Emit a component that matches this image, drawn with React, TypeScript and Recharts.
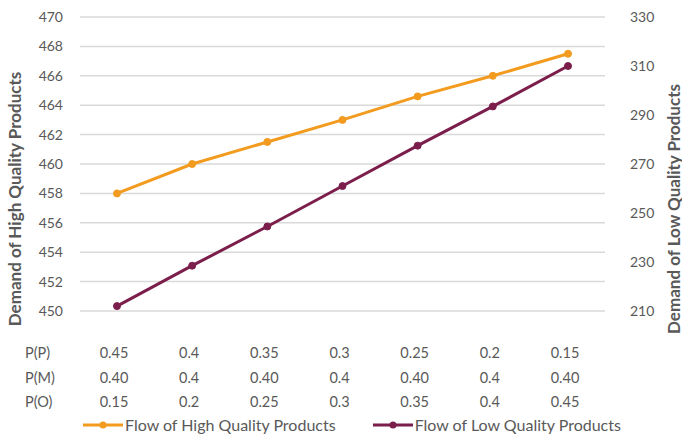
import { LineChart, Line, XAxis, YAxis, CartesianGrid, Legend } from 'recharts';

const pP = ['0.45', '0.4', '0.35', '0.3', '0.25', '0.2', '0.15'];
const pM = ['0.40', '0.4', '0.40', '0.4', '0.40', '0.4', '0.40'];
const pO = ['0.15', '0.2', '0.25', '0.3', '0.35', '0.4', '0.45'];
const rowLabels = ['P(P)', 'P(M)', 'P(O)'];

const highFlow = [458.0, 460.0, 461.5, 463.0, 464.6, 466.0, 467.5];
const lowFlow = [212, 228.5, 244.5, 261, 277.5, 293.5, 310];

const leftTicks = [450, 452, 454, 456, 458, 460, 462, 464, 466, 468, 470];
const rightTicks = [210, 230, 250, 270, 290, 310, 330];

const ORANGE = '#F29B1F';
const PURPLE = '#7B1E4C';
const TEXT = '#595959';
const FONT = 'Lato, "Open Sans", sans-serif';

const data = pP.map((p, i) => ({
  name: String(i),
  high: highFlow[i],
  low: lowFlow[i],
}));

function TableTick(props: any) {
  const { x, y, payload } = props;
  const i = payload.index;
  const rows = [pP[i], pM[i], pO[i]];
  return (
    <g>
      {rows.map((v, r) => (
        <text
          key={r}
          x={x - 3}
          y={y + 39 + r * 24.5}
          textAnchor="middle"
          fill={TEXT}
          fontSize={14.5}
          fontFamily={FONT}
        >
          {v}
        </text>
      ))}
      {i === 0 &&
        rowLabels.map((l, r) => (
          <text
            key={'l' + r}
            x={25}
            y={y + 39 + r * 24.5}
            textAnchor="start"
            fill={TEXT}
            fontSize={14.5}
            fontFamily={FONT}
          >
            {l}
          </text>
        ))}
    </g>
  );
}

// rotated axis title, centred at (cx, cy)
function axisTitle(text: string, cx: number, cy: number) {
  return () => (
    <text
      x={cx}
      y={cy}
      transform={`rotate(-90, ${cx}, ${cy})`}
      textAnchor="middle"
      dominantBaseline="central"
      fill={TEXT}
      fontSize={17}
      fontWeight={700}
      fontFamily={FONT}
    >
      {text}
    </text>
  );
}

function LegendContent() {
  const items = [
    { label: 'Flow of High Quality Products', color: ORANGE },
    { label: 'Flow of Low Quality Products', color: PURPLE },
  ];
  return (
    <div style={{ display: 'flex', gap: 36, fontFamily: FONT, fontSize: 16, color: TEXT, paddingTop: 5 }}>
      {items.map((it) => (
        <div key={it.label} style={{ display: 'flex', alignItems: 'center' }}>
          <svg width={42} height={12}>
            <line x1={1} y1={6} x2={41} y2={6} stroke={it.color} strokeWidth={3} />
            <circle cx={21} cy={6} r={3.5} fill={it.color} />
          </svg>
          <span style={{ marginLeft: 1 }}>{it.label}</span>
        </div>
      ))}
    </div>
  );
}

export default function App() {
  return (
    <div style={{ position: 'absolute', left: 0, top: 0, width: 682, height: 436, background: '#fff' }}>
      <LineChart width={682} height={436} data={data} margin={{ top: 17, right: 0, bottom: 0, left: 0 }}>
        <CartesianGrid vertical={false} stroke="#D9D9D9" strokeWidth={1.5} yAxisId="left" />
        <XAxis
          dataKey="name"
          axisLine={false}
          tickLine={false}
          height={99}
          interval={0}
          padding={{ left: 37, right: 37 }}
          tick={<TableTick />}
        />
        <YAxis
          yAxisId="left"
          domain={[450, 470]}
          ticks={leftTicks}
          width={80}
          axisLine={false}
          tickLine={false}
          tickMargin={11}
          tick={{ fill: TEXT, fontSize: 14, fontFamily: FONT }}
          label={{ content: axisTitle('Demand of High Quality Products', 14, 199) }}
        />
        <YAxis
          yAxisId="right"
          orientation="right"
          domain={[210, 330]}
          ticks={rightTicks}
          width={77}
          axisLine={false}
          tickLine={false}
          tickMargin={19}
          tick={{ fill: TEXT, fontSize: 14, fontFamily: FONT, textAnchor: 'start' }}
          label={{ content: axisTitle('Demand of Low Quality Products', 673, 209) }}
        />
        <Legend verticalAlign="bottom" align="left" height={26} wrapperStyle={{ left: 82 }} content={<LegendContent />} />
        <Line
          yAxisId="left"
          dataKey="high"
          stroke={ORANGE}
          strokeWidth={3}
          dot={{ r: 3.5, fill: ORANGE, stroke: ORANGE, strokeWidth: 1 }}
          isAnimationActive={false}
        />
        <Line
          yAxisId="right"
          dataKey="low"
          stroke={PURPLE}
          strokeWidth={3}
          dot={{ r: 3.5, fill: PURPLE, stroke: PURPLE, strokeWidth: 1 }}
          isAnimationActive={false}
        />
      </LineChart>
    </div>
  );
}
